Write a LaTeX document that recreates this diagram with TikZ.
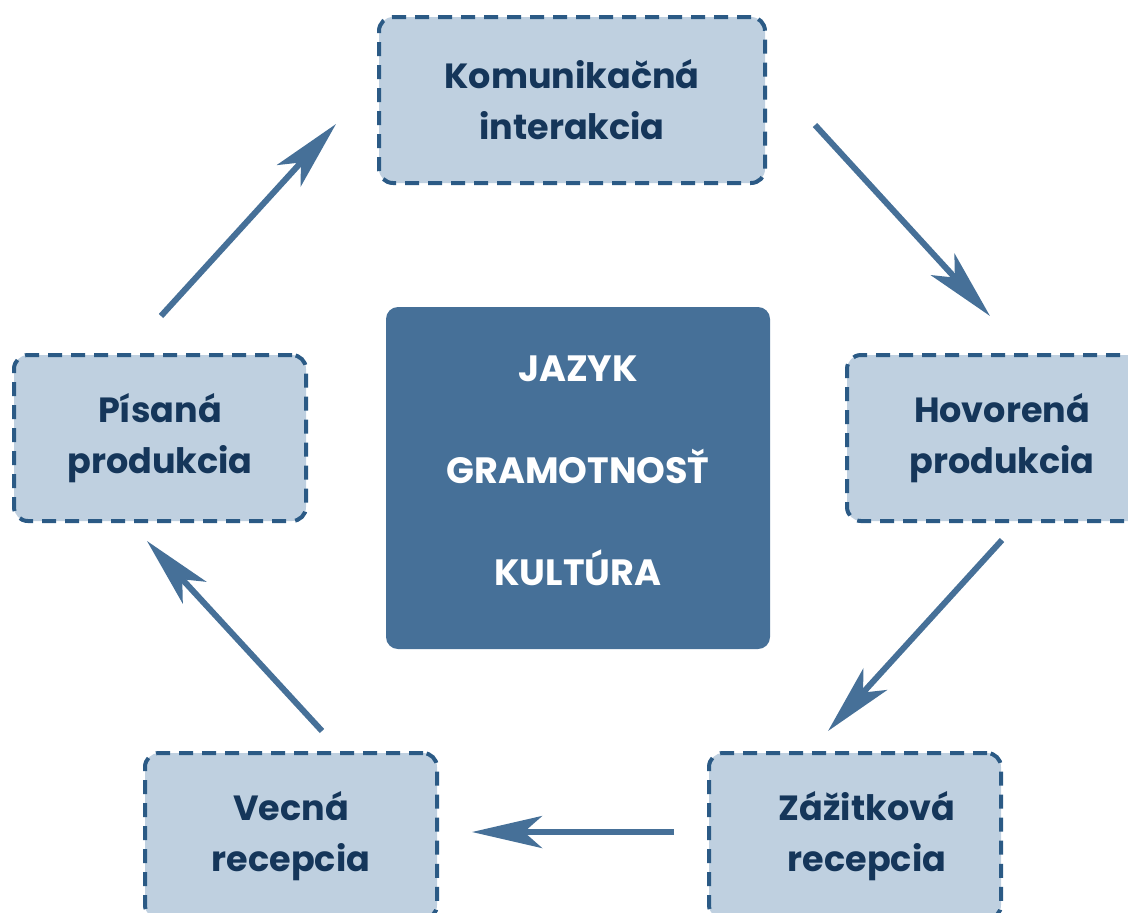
\documentclass[tikz,border=0pt]{standalone}
\usepackage{fontspec}
\setmainfont{Poppins}
\usepackage{tikz}
\usetikzlibrary{arrows.meta}
\definecolor{boxfill}{HTML}{BFD0E0}
\definecolor{boxline}{HTML}{2B5A85}
\definecolor{boxtext}{HTML}{15365A}
\definecolor{mainblue}{HTML}{467098}

\begin{document}
\begin{tikzpicture}[x=0.5pt,y=-0.5pt,
    stage/.style={draw=boxline,line width=2pt,dash pattern=on 7pt off 4.5pt,fill=boxfill,
        rounded corners=7pt,minimum width=146pt,minimum height=83pt,align=center,
        text=boxtext,font=\fontsize{17.5}{25.5}\selectfont\bfseries},
    core/.style={fill=mainblue,rounded corners=6pt,minimum width=192pt,minimum height=171pt},
    coretext/.style={align=center,text=white,font=\fontsize{18.3}{51}\selectfont\bfseries},
    flow/.style={draw=mainblue,line width=3pt,-{Stealth[length=35pt,width=16pt,inset=9pt]}}]
    \useasboundingbox (0,0) rectangle (1128,912);

    \node[core] (center) at (578,478) {};
    \node[coretext] (centertxt) at (578,471) {JAZYK\\GRAMOTNOSŤ\\KULTÚRA};

    \node[stage,minimum width=193pt] (kom) at (572,100) {Komunikačná\\interakcia};
    \node[stage,minimum width=155pt] (hov) at (1002,438) {Hovorená\\produkcia};
    \node[stage] (zaz) at (855,836) {\hspace*{12pt}Zážitková\\\hspace*{12pt}recepcia};
    \node[stage] (vec) at (291,836) {Vecná\\recepcia};
    \node[stage] (pis) at (160,438) {Písaná\\produkcia};

    % arrow ends
    \coordinate (a1) at (815,125);
    \coordinate (b1) at (990,316);
    \coordinate (a2) at (1002,540);
    \coordinate (b2) at (828,731);
    \coordinate (a3) at (674,832);
    \coordinate (b3) at (472,832);
    \coordinate (a4) at (322,731);
    \coordinate (b4) at (147,541);
    \coordinate (a5) at (161,316);
    \coordinate (b5) at (336,124);

    \draw[flow] (a1)--(b1);
    \draw[flow] (a2)--(b2);
    \draw[flow] (a3)--(b3);
    \draw[flow] (a4)--(b4);
    \draw[flow] (a5)--(b5);
\end{tikzpicture}
\end{document}
